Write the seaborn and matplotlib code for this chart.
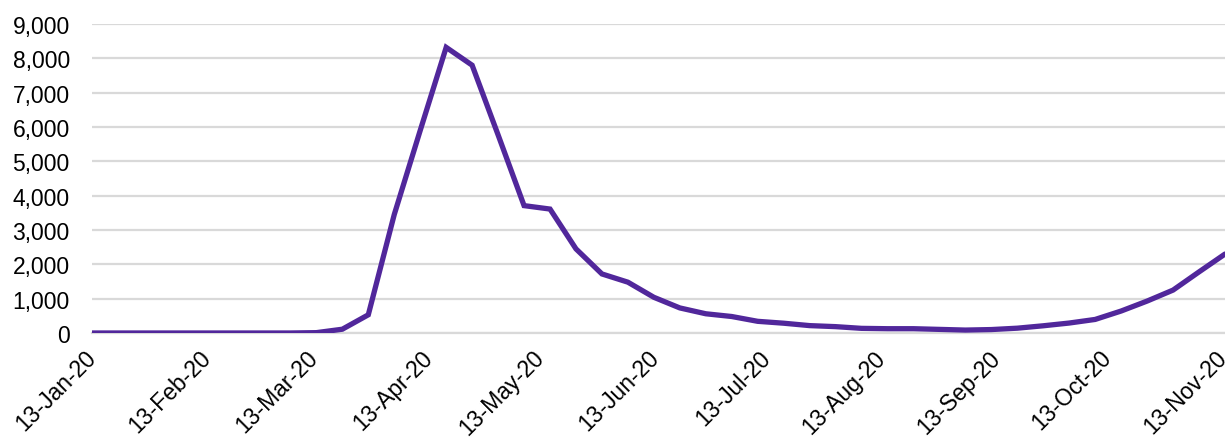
import matplotlib
matplotlib.use("Agg")
import matplotlib.pyplot as plt
from matplotlib.ticker import FuncFormatter
import pandas as pd
import seaborn as sns

# Weekly counts (week ending Friday)
week_ending = pd.date_range("2020-01-10", "2020-11-13", freq="7D")
weekly_count = [
    0, 0, 0, 0, 0, 0, 0, 0, 0, 10,          # 10-Jan .. 13-Mar
    110, 530, 3450, 5900, 8320, 7800,       # 20-Mar .. 24-Apr
    5770, 3710, 3610, 2450, 1720, 1480,     # 1-May .. 5-Jun
    1040, 730, 560, 480, 340, 285,          # 12-Jun .. 17-Jul
    215, 185, 135, 125, 125, 105,           # 24-Jul .. 28-Aug
    85, 100, 140, 210, 290, 395,            # 4-Sep .. 9-Oct
    640, 930, 1250, 1780, 2300,             # 16-Oct .. 13-Nov
]
tick_dates = pd.to_datetime([
    "2020-01-13", "2020-02-13", "2020-03-13", "2020-04-13", "2020-05-13",
    "2020-06-13", "2020-07-13", "2020-08-13", "2020-09-13", "2020-10-13",
    "2020-11-13",
])
y_ticks = list(range(0, 9001, 1000))

df = pd.DataFrame({
    # each week's value is placed at the middle of its day
    "date": week_ending + pd.Timedelta(hours=12),
    "count": weekly_count,
})

sns.set_style("white")
plt.rcParams["font.family"] = ["Liberation Sans", "DejaVu Sans"]

fig = plt.figure(figsize=(12.25, 4.39), dpi=100)
ax = fig.add_axes([0.0751, 0.2392, 0.9249, 0.7038])

sns.lineplot(data=df, x="date", y="count", ax=ax, color="#51279b",
             linewidth=3.8, solid_joinstyle="miter", zorder=3)

ax.set_xlim(pd.Timestamp("2020-01-13"), pd.Timestamp("2020-11-13 12:00"))
ax.set_ylim(0, 9000)
ax.set_yticks(y_ticks)
ax.yaxis.set_major_formatter(FuncFormatter(lambda v, p: f"{int(v):,}"))

ax.set_xticks(tick_dates)
ax.set_xticklabels([d.strftime("%d-%b-%y") for d in tick_dates],
                   rotation=45, ha="right", va="center", rotation_mode="anchor")

ax.grid(axis="y", color="#d9d9d9", linewidth=1.6)
ax.set_axisbelow(True)
for side in ("left", "right", "top"):
    ax.spines[side].set_visible(False)
ax.spines["bottom"].set_color("#d9d9d9")
ax.spines["bottom"].set_linewidth(1.6)

ax.tick_params(axis="y", length=0, pad=16, labelsize=16.5, colors="black")
ax.tick_params(axis="x", length=5, width=1.6, color="#d9d9d9",
               direction="out", pad=10, labelsize=16.5, labelcolor="black")
ax.set_xlabel("")
ax.set_ylabel("")

fig.savefig("out.png", dpi=100)
